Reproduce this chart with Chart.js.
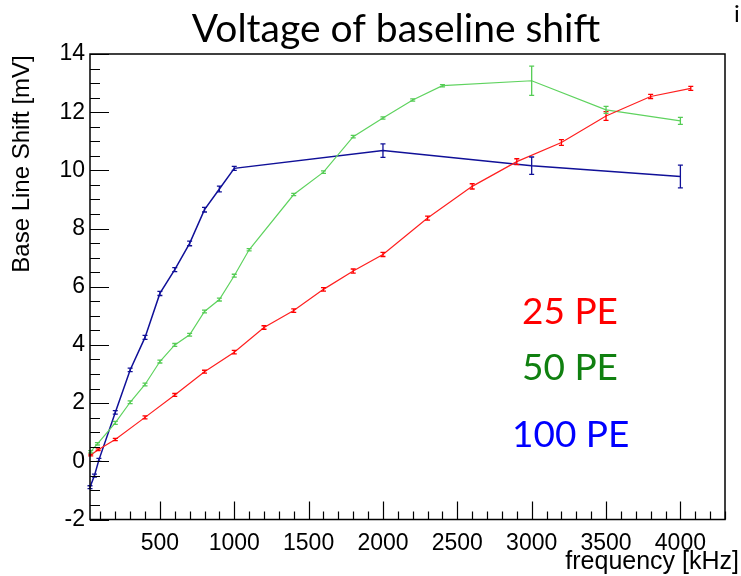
<!DOCTYPE html>
<html>
<head>
<meta charset="utf-8">
<script src="https://cdn.jsdelivr.net/npm/chart.js@4"></script>
<style>
  html, body { margin: 0; padding: 0; background: #fff; }
  #wrap { width: 741px; height: 576px; }
</style>
</head>
<body>
<div id="wrap"><canvas id="shift" width="741" height="576"></canvas></div>
<script>
// --- data ---
const freq25 = [35, 85, 200, 400, 600, 800, 1000, 1200, 1400, 1600, 1800, 2000, 2300, 2600, 2900, 3200, 3500, 3800, 4070];
const shift25 = [0.22, 0.4, 0.75, 1.51, 2.28, 3.08, 3.75, 4.6, 5.18, 5.91, 6.54, 7.11, 8.36, 9.45, 10.3, 10.96, 11.87, 12.54, 12.82];
const err25 = [0.03, 0.03, 0.04, 0.05, 0.05, 0.05, 0.06, 0.06, 0.06, 0.06, 0.07, 0.07, 0.07, 0.09, 0.1, 0.1, 0.15, 0.07, 0.07];

const freq50 = [35, 80, 200, 300, 400, 500, 600, 700, 800, 900, 1000, 1100, 1400, 1600, 1800, 2000, 2200, 2400, 3000, 3500, 4000];
const shift50 = [0.33, 0.6, 1.32, 2.03, 2.64, 3.43, 4.0, 4.35, 5.15, 5.56, 6.38, 7.27, 9.17, 9.94, 11.16, 11.8, 12.42, 12.91, 13.08, 12.08, 11.7];
const err50 = [0.04, 0.04, 0.05, 0.05, 0.05, 0.05, 0.05, 0.05, 0.05, 0.05, 0.05, 0.04, 0.04, 0.04, 0.04, 0.04, 0.04, 0.04, 0.5, 0.12, 0.12];

const freq100 = [30, 60, 90, 200, 300, 400, 500, 600, 700, 800, 900, 1000, 2000, 3000, 4000];
const shift100 = [-0.89, -0.49, 0.05, 1.68, 3.14, 4.26, 5.77, 6.59, 7.49, 8.65, 9.36, 10.07, 10.68, 10.16, 9.79];
const err100 = [0.05, 0.05, 0.05, 0.06, 0.06, 0.07, 0.07, 0.07, 0.08, 0.08, 0.1, 0.07, 0.23, 0.3, 0.39];

const xTicks = [500, 1000, 1500, 2000, 2500, 3000, 3500, 4000];
const seriesNames = ["25 PE", "50 PE", "100 PE"];

const pts = (xs, ys) => xs.map((x, i) => ({ x: x, y: ys[i] }));

// vertical error bars from the err arrays
const errorBars = {
  id: "errorBars",
  afterDatasetsDraw(chart) {
    const ctx = chart.ctx;
    const ys = chart.scales.y, xs = chart.scales.x;
    chart.data.datasets.forEach((ds) => {
      ctx.save();
      ctx.strokeStyle = ds.barColor;
      ctx.lineWidth = 1.3;
      ds.data.forEach((p, i) => {
        const e = ds.errors[i];
        const px = xs.getPixelForValue(p.x);
        const y1 = ys.getPixelForValue(p.y + e), y2 = ys.getPixelForValue(p.y - e);
        ctx.beginPath();
        ctx.moveTo(px, y1); ctx.lineTo(px, y2);
        ctx.moveTo(px - 2.5, y1); ctx.lineTo(px + 2.5, y1);
        ctx.moveTo(px - 2.5, y2); ctx.lineTo(px + 2.5, y2);
        ctx.stroke();
      });
      ctx.restore();
    });
  }
};

// ROOT-style frame, inside ticks and the free text
const frame = {
  id: "frame",
  afterDraw(chart) {
    const ctx = chart.ctx;
    const a = chart.chartArea;
    const xs = chart.scales.x, ys = chart.scales.y;
    ctx.save();
    ctx.strokeStyle = "#000";
    ctx.lineWidth = 1.5;
    ctx.strokeRect(a.left, a.top, a.right - a.left, a.bottom - a.top);
    ctx.lineWidth = 1.2;
    ctx.beginPath();
    for (let v = -2; v <= 14.001; v += 0.5) {
      const py = Math.round(ys.getPixelForValue(v)) + 0.5;
      const len = Math.abs(v % 2) < 1e-6 ? 19 : 10;
      ctx.moveTo(a.left, py); ctx.lineTo(a.left + len, py);
    }
    for (let v = 100; v <= 4300; v += 100) {
      const px = Math.round(xs.getPixelForValue(v)) + 0.5;
      const len = v % 500 === 0 ? 18 : 8;
      ctx.moveTo(px, a.bottom); ctx.lineTo(px, a.bottom - len);
    }
    ctx.stroke();

    // title
    ctx.fillStyle = "#000";
    ctx.font = "39px Lato";
    ctx.textAlign = "center";
    ctx.textBaseline = "alphabetic";
    ctx.fillText("Voltage of baseline shift", 396, 42);
    ctx.font = "24px Lato";
    ctx.fillText("i", 737, 22);

    // axis titles
    ctx.font = "25px 'Liberation Sans'";
    ctx.textAlign = "right";
    ctx.fillText("frequency [kHz]", 739, 569);
    ctx.save();
    ctx.translate(29, 164);
    ctx.rotate(-Math.PI / 2);
    ctx.textAlign = "center";
    ctx.font = "24px 'Liberation Sans'";
    ctx.fillText("Base Line Shift [mV]", 0, 0);
    ctx.restore();

    // series labels
    ctx.font = "37px Lato";
    ctx.textAlign = "left";
    const cols = ["#ff0000", "#108010", "#0000ff"];
    const pos = [[522, 324], [522, 380], [512, 447]];
    seriesNames.forEach((n, i) => {
      ctx.fillStyle = cols[i];
      ctx.fillText(n, pos[i][0], pos[i][1]);
    });
    ctx.restore();
  }
};

const ctxShift = document.getElementById("shift");
new Chart(ctxShift, {
  type: "line",
  data: {
    datasets: [
      { label: seriesNames[0], data: pts(freq25, shift25), errors: err25, barColor: "#ff0000",
        borderColor: "#ff2020", borderWidth: 1.2, pointRadius: 0, tension: 0, fill: false },
      { label: seriesNames[1], data: pts(freq50, shift50), errors: err50, barColor: "#55cc55",
        borderColor: "#5fd35f", borderWidth: 1.2, pointRadius: 0, tension: 0, fill: false },
      { label: seriesNames[2], data: pts(freq100, shift100), errors: err100, barColor: "#101098",
        borderColor: "#101098", borderWidth: 1.5, pointRadius: 0, tension: 0, fill: false }
    ]
  },
  options: {
    responsive: false,
    animation: false,
    layout: { padding: { top: 54, right: 16, left: 0, bottom: 0 } },
    plugins: { legend: { display: false }, title: { display: false }, tooltip: { enabled: false } },
    scales: {
      x: {
        type: "linear",
        min: 30,
        max: 4300,
        afterFit: (s) => { s.height = 56.5; },
        afterBuildTicks: (s) => { s.ticks = xTicks.map((v) => ({ value: v })); },
        grid: { display: false, drawTicks: false },
        border: { display: false },
        ticks: { color: "#000", padding: 10, maxRotation: 0, autoSkip: false,
                 callback: (v) => String(v),
                 font: { family: "'Liberation Sans'", size: 23 } }
      },
      y: {
        min: -2,
        max: 14,
        afterFit: (s) => { s.width = 90; },
        grid: { display: false, drawTicks: false },
        border: { display: false },
        ticks: { color: "#000", stepSize: 2, padding: 5,
                 callback: (v) => String(v),
                 font: { family: "'Liberation Sans'", size: 23 } }
      }
    }
  },
  plugins: [errorBars, frame]
});
</script>
</body>
</html>
